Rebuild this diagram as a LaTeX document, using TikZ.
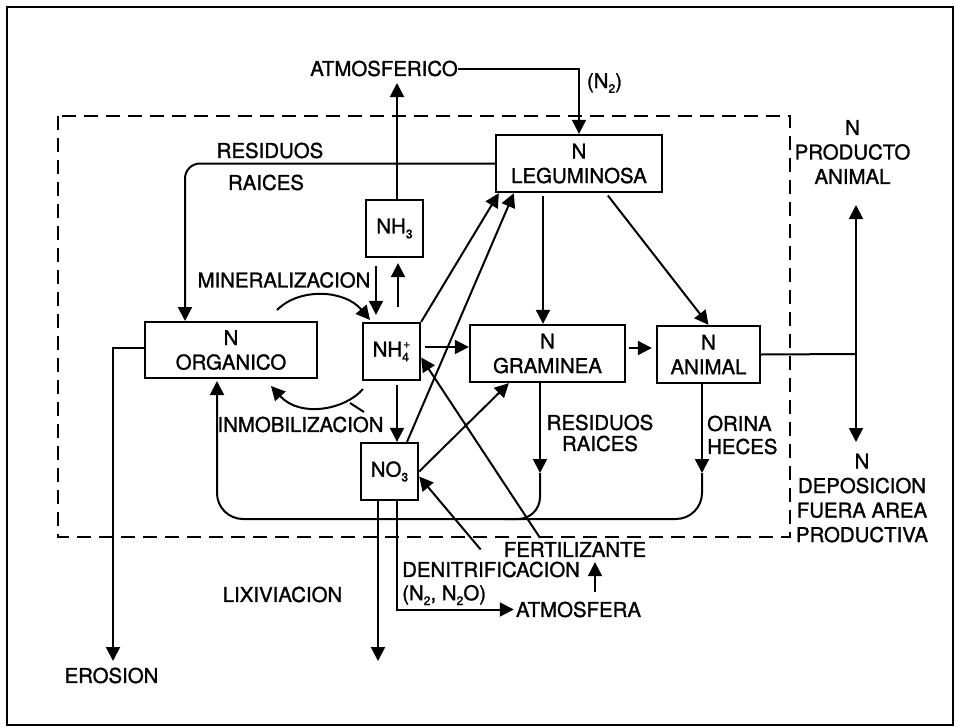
\documentclass[tikz,border=0pt]{standalone}
\usepackage{fontspec}
\setmainfont{TeX Gyre Heros}[FakeBold=1.3]
\usetikzlibrary{arrows.meta}
\newcommand\dn[1]{\raisebox{-0.45ex}{\scalebox{0.6}{#1}}}
\newcommand\upp[1]{\raisebox{0.8ex}{\scalebox{0.6}{#1}}}
\begin{document}
\begin{tikzpicture}[x=1pt,y=-1pt,
  font=\fontsize{20.4}{24.5}\selectfont,
  box/.style={draw, line width=2.3pt, inner sep=0pt, align=center, minimum height=57pt},
  lab/.style={inner sep=0pt, align=center},
  con/.style={line width=2pt},
  arr/.style={con, -{Triangle[length=14pt,width=14pt]}},
]
\useasboundingbox (0,0) rectangle (956,728);
\draw[line width=2.5pt] (7,7) rectangle (953,725);
\draw[con, dash pattern=on 14pt off 8pt] (58,116) rectangle (790,537);

% boxes
\node[box, minimum width=166pt] (leg) at (579,163.5) {N\\LEGUMINOSA};
\node[box, minimum width=57pt] (nh3) at (394.5,228.5) {NH\dn{3}};
\node[box, minimum width=57pt] (nh4) at (391.5,351.5) {NH\rlap{\dn{4}}\kern1pt\upp{+}};
\node[box, minimum width=57pt] (no3) at (389.5,471.5) {NO\dn{3}};
\node[box, minimum width=172pt, minimum height=56pt] (org) at (231,350) {N\\ORGANICO};
\node[box, minimum width=155pt] (gra) at (547.5,353.5) {N\\GRAMINEA};
\node[box, minimum width=103pt] (ani) at (708.5,354.5) {N\\ANIMAL};

% labels
\node[lab] (atmf) at (384,68.5) {ATMOSFERICO};
\node[lab] (n2) at (604.5,83) {(N\dn{2})};
\node[lab] (resA) at (270,150.5) {RESIDUOS};
\node[lab] (raiA) at (266,182.5) {RAICES};
\node[lab] (mine) at (284,280) {MINERALIZACION};
\node[lab] (inmo) at (300.5,424.5) {INMOBILIZACION};
\node[lab, font=\fontsize{20.4}{21}\selectfont] (resB) at (600,433) {RESIDUOS\\RAICES};
\node[lab, align=left, font=\fontsize{20.4}{23}\selectfont, anchor=west] (orin) at (707,435) {ORINA\\HECES};
\node[lab] (prod) at (852.5,152) {N\\PRODUCTO\\ANIMAL};
\node[lab] (depo) at (862,498) {N\\DEPOSICION\\FUERA AREA\\PRODUCTIVA};
\node[lab] (lixi) at (282.5,594.5) {LIXIVIACION};
\node[lab] (eros) at (111.5,675.5) {EROSION};
\node[lab, anchor=west] (deni) at (402,569.5) {DENITRIFICACION};
\node[lab, anchor=west] (denb) at (402,595) {(N\dn{2}, N\dn{2}O)};
\node[lab] (atmo) at (578.5,609.5) {ATMOSFERA};
\node[lab] (fert) at (575,549.5) {FERTILIZANTE};

% free ends
\coordinate (atmB) at (397,83);
\coordinate (orgT) at (185,321);
\coordinate (minS) at (277,310);
\coordinate (minE) at (370,320);
\coordinate (inmS) at (363,389);
\coordinate (inmE) at (271,386);
\coordinate (inmF) at (350,403);
\coordinate (inmG) at (364,412);
\coordinate (jn) at (856,354);
\coordinate (prT) at (856,205);
\coordinate (dpB) at (856,442);
\coordinate (aniR) at (702,473);
\coordinate (botR) at (702,519);
\coordinate (graR) at (540,473);
\coordinate (graJ) at (505,519);
\coordinate (orgB) at (217,381);
\coordinate (eroB) at (113,661);
\coordinate (lixB) at (378,661);

% connectors
\draw[arr] (atmf.east) -| (leg.north);
\draw[arr] (nh3.north -| atmB) -- (atmB);
\draw[arr, rounded corners=15pt] (leg.west) -| (orgT);
\draw[arr] (minS) .. controls (300,287) and (345,290) .. (minE);
\draw[arr] (inmS) .. controls (345,410) and (300,418) .. (inmE);
\draw[con] (inmF) -- (inmG);
\draw[arr, shorten <=8pt, shorten >=7pt] ([xshift=-18.5pt]nh3.south) -- ([xshift=-18.5pt]nh3.south |- nh4.north);
\draw[arr, shorten <=15pt, shorten >=5pt] ([xshift=3.5pt]nh3.south |- nh4.north) -- ([xshift=3.5pt]nh3.south);
\draw[arr, shorten <=4pt] ([yshift=4.5pt]nh4.east) -- ([yshift=4.5pt]nh4.east -| gra.west);
\draw[arr, shorten <=4pt] ([xshift=5.5pt]nh4.south) -- ([xshift=5.5pt]nh4.south |- no3.north);
\draw[arr] (nh4.north east) -- ([xshift=4pt]leg.south west);
\draw[arr] ([xshift=17.5pt]no3.north) -- ([xshift=19pt]leg.south west);
\draw[arr] (no3.east) -- ([xshift=40pt]gra.south west);
\draw[arr, shorten <=3pt] ([xshift=-36pt]leg.south) -- ([xshift=-36pt]leg.south |- gra.north);
\draw[arr, shorten <=3pt] ([xshift=27pt]leg.south) -- (ani.north);
\draw[arr, shorten <=3pt, shorten >=4pt] ([yshift=5.5pt]gra.east) -- ([yshift=5.5pt]gra.east -| ani.west);
\draw[con] (ani.east) -- (jn);
\draw[arr] (jn) -- (prT);
\draw[arr] (jn) -- (dpB);
\draw[arr] ([xshift=-6.5pt]ani.south) -- (aniR);
\draw[arr, rounded corners=26pt] (aniR) -- (botR) -| (orgB);
\draw[arr] ([xshift=-7.5pt]gra.south) -- (graR);
\draw[con, rounded corners=22pt] (graR) |- (graJ);
\draw[arr] ([yshift=2pt]org.west) -| (eroB);
\draw[arr] ([xshift=-11.5pt]no3.south) -- (lixB);
\draw[arr] ([xshift=7.5pt]no3.south) |- ([xshift=-2pt]atmo.west);
\draw[arr, shorten <=10pt, shorten >=5pt] ([xshift=16.5pt]atmo.north) -- ([xshift=16.5pt]atmo.north |- fert.south);
\draw[arr] ([xshift=-35pt,yshift=4pt]fert.north) -- ([yshift=-6pt]nh4.east);
\draw[arr] ([xshift=-23pt]fert.west) -- ([yshift=-5pt]no3.east);
\end{tikzpicture}
\end{document}
